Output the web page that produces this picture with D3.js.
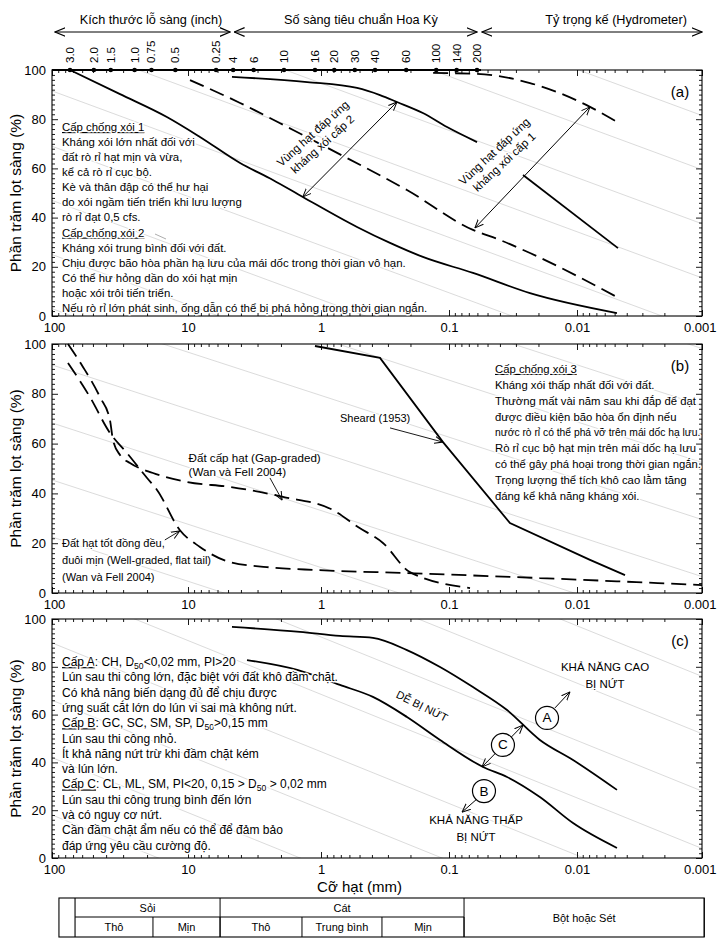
<!DOCTYPE html>
<html><head><meta charset="utf-8">
<script src="https://cdn.jsdelivr.net/npm/d3@7"></script>
<style>
body{margin:0;background:#fff}
svg text{font-family:"Liberation Sans",Arial,Helvetica,sans-serif;fill:#000}
</style>
</head><body>
<svg id="chart" width="717" height="939"></svg>
<script>
// ---------- axis values ----------
const xTickValues = [100, 10, 1, 0.1, 0.01, 0.001];
const xTickLabels = ["100", "10", "1", "0.1", "0.01", "0.001"];
const yTickValues = [0, 20, 40, 60, 80, 100];
const yMinorTicks = [2,4,6,8,10,12,14,16,18,22,24,26,28,30,32,34,36,38,42,44,46,48,50,52,54,56,58,62,64,66,68,70,72,74,76,78,82,84,86,88,90,92,94,96,98];

const inchSieveLabels = ["3.0", "2.0", "1.5", "1.0", "0.75", "0.5", "0.25"];
const inchSieveMm = [76.2, 50.8, 38.1, 25.4, 19.05, 12.7, 6.35];
const usSieveLabels = ["4", "6", "10", "16", "20", "30", "40", "60", "100", "140", "200"];
const usSieveMm = [4.75, 3.35, 2.0, 1.18, 0.85, 0.6, 0.425, 0.25, 0.15, 0.106, 0.075];

// ---------- series: [grain size mm, percent passing] ----------
const aLowerSolid = [[73.8,100],[31.6,90.2],[14.3,80.9],[8.13,72.8],[4.06,62.2],[2.30,55.3],[1.37,48.4],[0.523,36.2],[0.289,29.7],[0.160,24.0],[0.065,17.5],[0.0233,9.3],[0.00479,1.2]];
const aUpperSolid = [[4.67,97.2],[1.27,95.1],[0.523,92.7],[0.346,89.8],[0.255,87.0],[0.160,82.5],[0.1036,76.8],[0.0604,70.7]];
const aMidDashed = [[9.66,95.9],[4.06,86.6],[1.62,75.6],[0.626,64.2],[0.213,51.2],[0.065,35.0],[0.040,30.9],[0.0233,25.6],[0.00479,7.7]];
const aUpperDashed = [[0.133,98.8],[0.0604,98.4],[0.0233,94.7],[0.00787,85.0],[0.00479,78.9]];
const aRightSolid = [[0.0264,57.3],[0.0047,27.6]];

const bSheard = [[1.11,99.2],[0.346,94.4],[0.1114,60.6],[0.0334,28.1],[0.00787,13.3],[0.00413,7.2]];
const bGapGraded = [[76.3,100],[59.2,90.8],[44.4,78.7],[37.5,69.5],[35.6,61.4],[31.6,55.4],[26.7,52.2],[18.1,48.2],[10.2,44.6],[4.83,42.6],[1.93,38.6],[0.806,33.3],[0.514,26.5],[0.328,20.1],[0.202,8.4],[0.0685,2.0]];
const bWellGraded = [[76.3,92.4],[52.6,78.7],[37.5,64.3],[28.1,56.2],[20.0,46.2],[16.9,41.4],[11.5,25.3],[8.13,18.5],[4.83,12.4],[2.55,10.4],[1.07,9.2],[0.213,8.0],[0.0195,6.0],[0.001,3.2]];

const cUpper = [[4.67,96.7],[1.44,94.6],[0.711,92.9],[0.393,92.1],[0.213,87.0],[0.1175,79.9],[0.065,71.5],[0.0352,61.9],[0.0195,49.4],[0.01074,41.0],[0.00479,28.5]];
const cLower = [[3.60,82.8],[1.51,78.7],[0.711,72.4],[0.393,67.4],[0.213,59.0],[0.1175,49.4],[0.0542,38.1],[0.0352,33.9],[0.0195,25.5],[0.01074,14.6],[0.00479,4.2]];

// background guide lines: percent at 100 mm, and drop per decade
const guidesA = [3, 25, 47, 69, 91.5, 113, 135, 157, 179];
const guidesB = [-0.4, 22.5, 45.4, 68.3, 91.6, 114.5, 137.4, 160.3, 183.2];
const guidesC = [18, 42, 66, 90, 114, 138, 162, 186, 210];
const guideSlopes = [19.5, 17, 22];

// soil classification table (boundaries in mm)
const tableTopGroups = ["Sỏi", "Cát", "Bột hoặc Sét"];
const tableTopBounds = [[67.7,5.74],[5.74,0.0763],[0.0763,0.00096]];
const tableSubGroups = ["Thô", "Mịn", "Thô", "Trung bình", "Mịn"];
const tableSubBounds = [[67.7,18.1],[18.1,5.74],[5.74,1.39],[1.39,0.334],[0.334,0.0763]];
const tableLeftMm = 88.9;

// ---------- texts ----------
const textA = [
  [{t:"Cấp chống xói 1",u:1}],
  "Kháng xói lớn nhất đối với",
  "đất rò rỉ hạt mịn và vừa,",
  "kể cả rò rỉ cục bộ.",
  "Kè và thân đập có thể hư hại",
  "do xói ngầm tiến triển khi lưu lượng",
  "rò rỉ đạt 0,5 cfs.",
  [{t:"Cấp chống xói 2",u:1}],
  "Kháng xói trung bình đối với đất.",
  "Chịu được bão hòa phần hạ lưu của mái dốc trong thời gian vô hạn.",
  "Có thể hư hỏng dần do xói hạt mịn",
  "hoặc xói trôi tiến triển.",
  "Nếu rò rỉ lớn phát sinh, ống dẫn có thể bị phá hỏng trong thời gian ngắn."
];
const textB = [
  [{t:"Cấp chống xói 3",u:1}],
  "Kháng xói thấp nhất đối với đất.",
  "Thường mất vài năm sau khi đắp để đạt",
  "được điều kiện bão hòa ổn định nếu",
  [{t:"nước rò rỉ có thể phá vỡ trên mái dốc hạ lưu.",fs:10.3}],
  "Rò rỉ cục bộ hạt mịn trên mái dốc hạ lưu",
  "có thể gây phá hoại trong thời gian ngắn.",
  "Trọng lượng thể tích khô cao lằm tăng",
  "đáng kể khả năng kháng xói."
];
const textC = [
  [{t:"Cấp A",u:1},{t:": CH, D"},{t:"50",sub:1},{t:"<0,02 mm, PI>20"}],
  "Lún sau thi công lớn, đặc biệt với đất khô đầm chặt.",
  "Có khả năng biến dạng đủ để chịu được",
  "ứng suất cắt lớn do lún vi sai mà không nứt.",
  [{t:"Cấp B",u:1},{t:": GC, SC, SM, SP, D"},{t:"50",sub:1},{t:">0,15 mm"}],
  "Lún sau thi công nhỏ.",
  "Ít khả năng nứt trừ khi đầm chặt kém",
  "và lún lớn.",
  [{t:"Cấp C",u:1},{t:": CL, ML, SM, PI<20, 0,15 > D"},{t:"50",sub:1},{t:" > 0,02 mm"}],
  "Lún sau thi công trung bình đến lớn",
  "và có nguy cơ nứt.",
  "Cần đầm chặt ẩm nếu có thể để đảm bảo",
  "đáp ứng yêu cầu cường độ."
];

// ---------- scales ----------
const x = d3.scaleLog().domain(xTickValues).range([52, 188, 321, 449, 577, 702]);
const xTop = d3.scaleLog().domain([76.2, 0.075]).range([70, 477]);
const panels = [
  {id:"a", top:70, bottom:316, guides:guidesA, slope:guideSlopes[0], label:"(a)"},
  {id:"b", top:344, bottom:593, guides:guidesB, slope:guideSlopes[1], label:"(b)"},
  {id:"c", top:619, bottom:858, guides:guidesC, slope:guideSlopes[2], label:"(c)"}
];
panels.forEach(p => p.y = d3.scaleLinear().domain([0, 100]).range([p.bottom, p.top]));

const svg = d3.select("#chart");
svg.append("rect").attr("width", 717).attr("height", 939).attr("fill", "#fff");
const defs = svg.append("defs");
function marker(id, size) {
  defs.append("marker").attr("id", id).attr("viewBox", "0 0 10 10")
    .attr("refX", 9.5).attr("refY", 5).attr("markerWidth", size).attr("markerHeight", size)
    .attr("markerUnits", "userSpaceOnUse").attr("orient", "auto-start-reverse")
    .append("path").attr("d", "M0,1 L9.5,5 L0,9").attr("fill", "none")
    .attr("stroke", "#000").attr("stroke-width", 1.1);
}
marker("arr", 9);
marker("arrBig", 11);

function halo(sel) {
  return sel.attr("stroke", "#fff").attr("stroke-width", 3).attr("stroke-linejoin", "round").attr("paint-order", "stroke");
}
function textBlock(g, x0, y0, lh, lines, fs) {
  lines.forEach((ln, i) => {
    const segs = typeof ln === "string" ? [{t: ln}] : ln;
    const rowFs = segs[0].fs || fs;
    const row = halo(g.append("text").attr("x", x0).attr("y", y0 + i * lh).attr("font-size", rowFs));
    let shifted = false;
    segs.forEach(s => {
      const ts = row.append("tspan").text(s.t);
      if (s.u) ts.style("text-decoration", "underline");
      if (s.sub) { ts.attr("font-size", rowFs * 0.72).attr("dy", 3); shifted = true; }
      else if (shifted) { ts.attr("dy", -3); shifted = false; }
    });
  });
}
function arrow(g, p, a, b, both, w) {
  const l = g.append("line").attr("x1", x(a[0])).attr("y1", p.y(a[1])).attr("x2", x(b[0])).attr("y2", p.y(b[1]))
    .attr("stroke", "#000").attr("stroke-width", w || 1).attr("marker-end", "url(#arr)");
  if (both) l.attr("marker-start", "url(#arr)");
  return l;
}

// ---------- panels: guides, frame, ticks ----------
panels.forEach(p => {
  const g = svg.append("g");
  p.g = g;
  defs.append("clipPath").attr("id", "clip-" + p.id).append("rect")
    .attr("x", x(100)).attr("y", p.top).attr("width", x(0.001) - x(100)).attr("height", p.bottom - p.top);
  const gg = g.append("g").attr("clip-path", `url(#clip-${p.id})`);
  gg.selectAll("line").data(p.guides).join("line")
    .attr("x1", x(100)).attr("y1", d => p.y(d))
    .attr("x2", x(0.001)).attr("y2", d => p.y(d - 5 * p.slope))
    .attr("stroke", "#d2d2d2").attr("stroke-width", 0.8);

  const minor = x.ticks().filter(v => !xTickValues.some(t => Math.abs(Math.log10(v) - Math.log10(t)) < 1e-6));
  const tickG = g.append("g").attr("stroke-width", 0.9);
  tickG.append("g").attr("transform", `translate(0,${p.bottom})`).call(d3.axisTop(x).tickValues(minor).tickSize(3).tickFormat(""));
  tickG.append("g").attr("transform", `translate(0,${p.bottom})`).call(d3.axisTop(x).tickValues(xTickValues).tickSize(6).tickFormat(""));
  tickG.append("g").attr("transform", `translate(0,${p.top})`).call(d3.axisBottom(x).tickValues(minor).tickSize(3).tickFormat(""));
  tickG.append("g").attr("transform", `translate(0,${p.top})`).call(d3.axisBottom(x).tickValues(xTickValues).tickSize(6).tickFormat(""));
  tickG.append("g").attr("transform", `translate(${x(100)},0)`).call(d3.axisRight(p.y).tickValues(yMinorTicks).tickSize(3).tickFormat(""));
  tickG.append("g").attr("transform", `translate(${x(100)},0)`).call(d3.axisRight(p.y).tickValues(yTickValues).tickSize(6).tickFormat(""));
  tickG.append("g").attr("transform", `translate(${x(0.001)},0)`).call(d3.axisLeft(p.y).tickValues(yMinorTicks).tickSize(3).tickFormat(""));
  tickG.append("g").attr("transform", `translate(${x(0.001)},0)`).call(d3.axisLeft(p.y).tickValues(yTickValues).tickSize(6).tickFormat(""));
  tickG.selectAll(".domain").remove();

  const lx = g.append("g").attr("transform", `translate(0,${p.bottom})`)
    .call(d3.axisBottom(x).tickValues(xTickValues).tickSize(0).tickPadding(7).tickFormat((d, i) => xTickLabels[i]));
  lx.select(".domain").remove();
  lx.selectAll("text").attr("font-size", 13).attr("font-family", '"Liberation Sans",Arial,sans-serif');
  lx.selectAll("text").filter((d, i) => i === xTickValues.length - 1).attr("text-anchor", "end").attr("dx", 14);
  lx.selectAll("text").filter((d, i) => i === 0).attr("dx", 2);
  const ly = g.append("g").attr("transform", `translate(${x(100) - 4},0)`)
    .call(d3.axisLeft(p.y).tickValues(yTickValues).tickSize(0).tickPadding(2));
  ly.select(".domain").remove();
  ly.selectAll("text").attr("font-size", 13).attr("font-family", '"Liberation Sans",Arial,sans-serif');

  g.append("rect").attr("x", x(100)).attr("y", p.top).attr("width", x(0.001) - x(100)).attr("height", p.bottom - p.top)
    .attr("fill", "none").attr("stroke", "#000").attr("stroke-width", 1.1);

  g.append("text").attr("transform", `translate(15,${(p.top + p.bottom) / 2}) rotate(-90)`)
    .attr("text-anchor", "middle").attr("dominant-baseline", "central").attr("font-size", 15.5)
    .text("Phần trăm lọt sàng (%)");
  g.append("text").attr("x", x(0.001) - 22).attr("y", p.top + 27).attr("text-anchor", "middle")
    .attr("font-size", 15).text(p.label);
});

// ---------- top sieve axis ----------
const topG = svg.append("g");
topG.append("line").attr("x1", x(100)).attr("x2", xTop(0.075) + 4).attr("y1", panels[0].top).attr("y2", panels[0].top)
  .attr("stroke", "#000").attr("stroke-width", 2);
const sieveAll = inchSieveMm.map((m, i) => ({mm: m, label: inchSieveLabels[i]}))
  .concat(usSieveMm.map((m, i) => ({mm: m, label: usSieveLabels[i]})));
topG.selectAll("circle").data(sieveAll).join("circle")
  .attr("cx", d => xTop(d.mm)).attr("cy", panels[0].top).attr("r", 2.3).attr("fill", "#000");
topG.selectAll("text.sv").data(sieveAll).join("text").attr("class", "sv")
  .attr("transform", d => `translate(${xTop(d.mm)},${panels[0].top - 7}) rotate(-90)`)
  .attr("dominant-baseline", "central").attr("font-size", 11.5).text(d => d.label);
const headers = [
  {t: "Kích thước lỗ sàng (inch)", x1: x(100) + 3, x2: xTop(4.75) - 3, cx: 151},
  {t: "Số sàng tiêu chuẩn Hoa Kỳ", x1: xTop(4.75) + 1, x2: xTop(0.075), cx: 361},
  {t: "Tỷ trọng kế (Hydrometer)", x1: xTop(0.075) + 5, x2: x(0.001), cx: 616}
];
headers.forEach(h => {
  topG.append("line").attr("x1", h.x1).attr("x2", h.x2).attr("y1", 32).attr("y2", 32)
    .attr("stroke", "#000").attr("stroke-width", 1)
    .attr("marker-start", "url(#arrBig)").attr("marker-end", "url(#arrBig)");
  topG.append("text").attr("x", h.cx).attr("y", 24).attr("text-anchor", "middle").attr("font-size", 12.7).text(h.t);
});

// ---------- curves ----------
function drawCurve(p, data, dashed, curve) {
  p.g.append("path").datum(data)
    .attr("d", d3.line().x(d => x(d[0])).y(d => p.y(d[1])).curve(curve || d3.curveMonotoneX))
    .attr("fill", "none").attr("stroke", "#000").attr("stroke-width", 1.8)
    .attr("stroke-dasharray", dashed ? "15,7" : null);
}
const [pa, pb, pc] = panels;
drawCurve(pa, aLowerSolid, false);
drawCurve(pa, aUpperSolid, false);
drawCurve(pa, aMidDashed, true);
drawCurve(pa, aUpperDashed, true);
drawCurve(pa, aRightSolid, false, d3.curveLinear);
drawCurve(pb, bSheard, false, d3.curveLinear);
drawCurve(pb, bGapGraded, true);
drawCurve(pb, bWellGraded, true);
drawCurve(pc, cUpper, false);
drawCurve(pc, cLower, false);

// ---------- annotations panel (a) ----------
textBlock(pa.g, x(84.4), pa.y(75.2), 15.08, textA, 11.4);
pa.g.append("line").attr("x1", 155).attr("y1", 234).attr("x2", 166).attr("y2", 239).attr("stroke", "#888").attr("stroke-width", 0.7);
arrow(pa.g, pa, [1.37, 48.4], [0.255, 87.0], true);
arrow(pa.g, pa, [0.00787, 85.0], [0.0627, 35.8], true);
function rotLabel(g, p, pos, ang, lines, fs, gap) {
  const t = halo(g.append("text").attr("transform", `translate(${x(pos[0])},${p.y(pos[1])}) rotate(${ang})`)
    .attr("text-anchor", "middle").attr("font-size", fs));
  lines.forEach((l, i) => t.append("tspan").attr("x", 0).attr("y", (i - (lines.length - 1) / 2) * gap + fs * 0.35).text(l));
}
rotLabel(pa.g, pa, [1.06, 72.0], -42, ["Vùng hạt đáp ứng", "kháng xói cấp 2"], 11.5, 14.5);
rotLabel(pa.g, pa, [0.0405, 64.8], -43, ["Vùng hạt đáp ứng", "kháng xói cấp 1"], 11.5, 14.5);

// ---------- annotations panel (b) ----------
halo(pb.g.append("text").attr("x", x(0.711)).attr("y", pb.y(68.7)).attr("font-size", 11)).text("Sheard (1953)");
arrow(pb.g, pb, [0.289, 66.3], [0.1114, 60.6], false, 0.9);
textBlock(pb.g, x(9.9), pb.y(52.6), 14.2, ["Đất cấp hạt (Gap-graded)", "(Wan và Fell 2004)"], 11.6);
arrow(pb.g, pb, [2.42, 46.2], [1.96, 37.3], false, 0.9);
textBlock(pb.g, x(84.4), pb.y(18.5), 17, ["Đất hạt tốt đồng đều,", "đuôi mịn (Well-graded, flat tail)", "(Wan và Fell 2004)"], 11);
arrow(pb.g, pb, [14.8, 21.3], [11.5, 24.9], false, 0.9);
textBlock(pb.g, x(0.0437), pb.y(88.4), 15.9, textB, 11.3);

// ---------- annotations panel (c) ----------
textBlock(pc.g, x(84.4), pc.y(80.3), 15.3, textC, 12);
arrow(pc.g, pc, [0.0264, 55.6], [0.0552, 38.1], true);
arrow(pc.g, pc, [0.01486, 62.8], [0.01135, 69.5], false);
arrow(pc.g, pc, [0.0593, 25.1], [0.0791, 19.2], false);
const circles = [{t: "A", d: 0.01715, p: 58.6}, {t: "C", d: 0.0379, p: 47.3}, {t: "B", d: 0.0533, p: 28.0}];
circles.forEach(c => {
  pc.g.append("circle").attr("cx", x(c.d)).attr("cy", pc.y(c.p)).attr("r", 11.5)
    .attr("fill", "#fff").attr("stroke", "#000").attr("stroke-width", 1.2);
  pc.g.append("text").attr("x", x(c.d)).attr("y", pc.y(c.p)).attr("text-anchor", "middle")
    .attr("dominant-baseline", "central").attr("font-size", 13.5).text(c.t);
});
function centered(g, p, pos, lines, fs, gap) {
  lines.forEach((l, i) => halo(g.append("text").attr("x", x(pos[0])).attr("y", p.y(pos[1]) + i * gap)
    .attr("text-anchor", "middle").attr("font-size", fs)).text(l));
}
centered(pc.g, pc, [0.00597, 78.2], ["KHẢ NĂNG CAO", "BỊ NỨT"], 11.5, 16.5);
centered(pc.g, pc, [0.0615, 14.2], ["KHẢ NĂNG THẤP", "BỊ NỨT"], 11.5, 16.5);
halo(pc.g.append("text").attr("transform", `translate(${x(0.1626)},${pc.y(63.6)}) rotate(26.6)`)
  .attr("text-anchor", "middle").attr("dominant-baseline", "central").attr("font-size", 11)).text("DỄ BỊ NỨT");

// ---------- x title & table ----------
svg.append("text").attr("x", x(0.5)).attr("y", 892).attr("text-anchor", "middle").attr("font-size", 15).text("Cỡ hạt (mm)");
const tb = svg.append("g");
const ty0 = 898, ty1 = 917, ty2 = 937;
tb.append("rect").attr("x", x(tableLeftMm)).attr("y", ty0).attr("width", x(0.00096) - x(tableLeftMm)).attr("height", ty2 - ty0)
  .attr("fill", "none").attr("stroke", "#000").attr("stroke-width", 1.1);
tb.append("line").attr("x1", x(67.7)).attr("x2", x(67.7)).attr("y1", ty0).attr("y2", ty2).attr("stroke", "#000").attr("stroke-width", 1.1);
tb.append("line").attr("x1", x(67.7)).attr("x2", x(0.0763)).attr("y1", ty1).attr("y2", ty1).attr("stroke", "#000").attr("stroke-width", 1);
tableTopBounds.forEach((b, i) => {
  tb.append("line").attr("x1", x(b[1])).attr("x2", x(b[1])).attr("y1", ty0).attr("y2", ty2).attr("stroke", "#000").attr("stroke-width", 1);
  const last = i === tableTopBounds.length - 1;
  tb.append("text").attr("x", (x(b[0]) + x(b[1])) / 2).attr("y", last ? (ty0 + ty2) / 2 : (ty0 + ty1) / 2)
    .attr("text-anchor", "middle").attr("dominant-baseline", "central").attr("font-size", 11).text(tableTopGroups[i]);
});
tableSubBounds.forEach((b, i) => {
  tb.append("line").attr("x1", x(b[1])).attr("x2", x(b[1])).attr("y1", ty1).attr("y2", ty2).attr("stroke", "#000").attr("stroke-width", 1);
  tb.append("text").attr("x", (x(b[0]) + x(b[1])) / 2).attr("y", (ty1 + ty2) / 2)
    .attr("text-anchor", "middle").attr("dominant-baseline", "central").attr("font-size", 11).text(tableSubGroups[i]);
});
</script>
</body></html>
